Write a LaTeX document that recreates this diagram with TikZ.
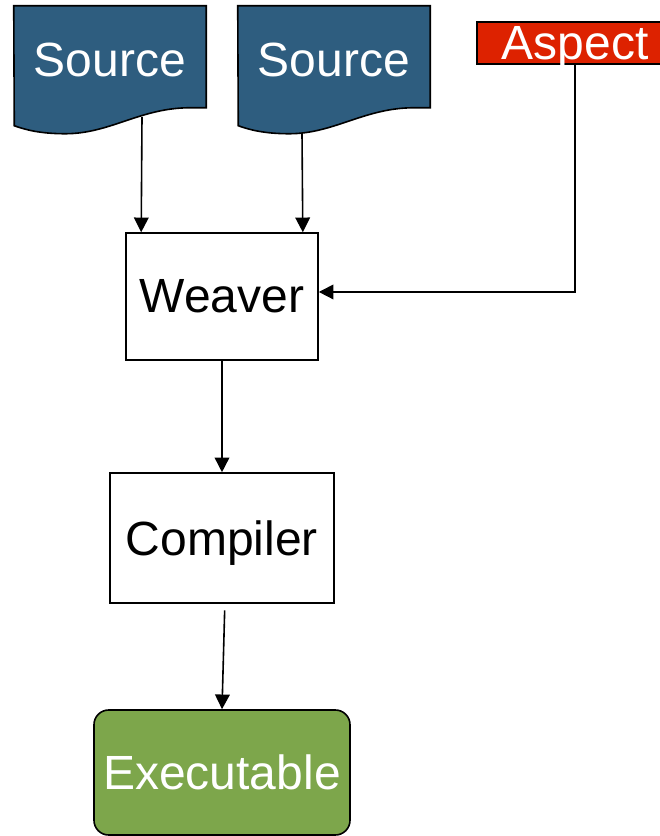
\documentclass[tikz,border=0pt]{standalone}
\usepackage{fontspec}
\setmainfont{Liberation Sans}
\usetikzlibrary{calc,backgrounds,arrows.meta}
\definecolor{srcblue}{HTML}{2E5D7F}
\definecolor{aspred}{HTML}{DD2200}
\definecolor{exegreen}{HTML}{7DA64B}

\begin{document}
\begin{tikzpicture}[x=0.75pt,y=-0.75pt,font=\fontsize{36}{43}\selectfont,
  box/.style={draw,line width=1.2pt,inner sep=0pt},
  doc/.style={inner sep=0pt,minimum width=144pt,minimum height=81pt,text=white},
  arr/.style={line width=1.2pt,-{Triangle[length=11pt,width=11pt]}}]
  \useasboundingbox (0,0) rectangle (660,836);
  % inputs
  \node[doc] (s1) at (110,60) {Source};
  \node[doc] (s2) at (334,60) {Source};
  \node[box,fill=aspred,text=white,minimum width=147pt,minimum height=31.5pt,
        text depth=0pt] (aspect) at (575,43) {Aspect};
  % build chain
  \node[box,minimum width=144pt,minimum height=95.25pt] (weaver) at (222,296.5) {Weaver};
  \node[box,minimum width=168pt,minimum height=97.5pt,text depth=0pt] (compiler)
        at (222,538) {Compiler};
  \node[box,rounded corners=11pt,fill=exegreen,text=white,minimum width=192pt,
        minimum height=93.75pt] (exe) at (222,772.5) {Executable};
  % document shapes behind the source labels
  \begin{pgfonlayer}{background}
    \foreach \s in {s1,s2}
      \draw[line width=1.2pt,fill=srcblue] (\s.north west) -- (\s.north east)
        -- ++(0,102) -- ++(-16,0) .. controls +(-50,0) and +(45,0) .. ++(-125,26)
        .. controls +(-25,0) and +(11,4) .. ++(-51,-8) -- cycle;
  \end{pgfonlayer}
  % connectors
  \draw[arr] ([xshift=24pt,yshift=-2pt]s1.south) -- ([xshift=12pt]weaver.north west);
  \draw[arr] ([xshift=-24pt,yshift=-14pt]s2.south) -- ([xshift=-12pt]weaver.north east);
  \draw[arr] (aspect.south) |- ([yshift=3.4pt]weaver.east);
  \draw[arr] (weaver.south) -- (compiler.north);
  \draw[arr] ([xshift=2pt,yshift=-5pt]compiler.south) -- (exe.north);
\end{tikzpicture}
\end{document}
